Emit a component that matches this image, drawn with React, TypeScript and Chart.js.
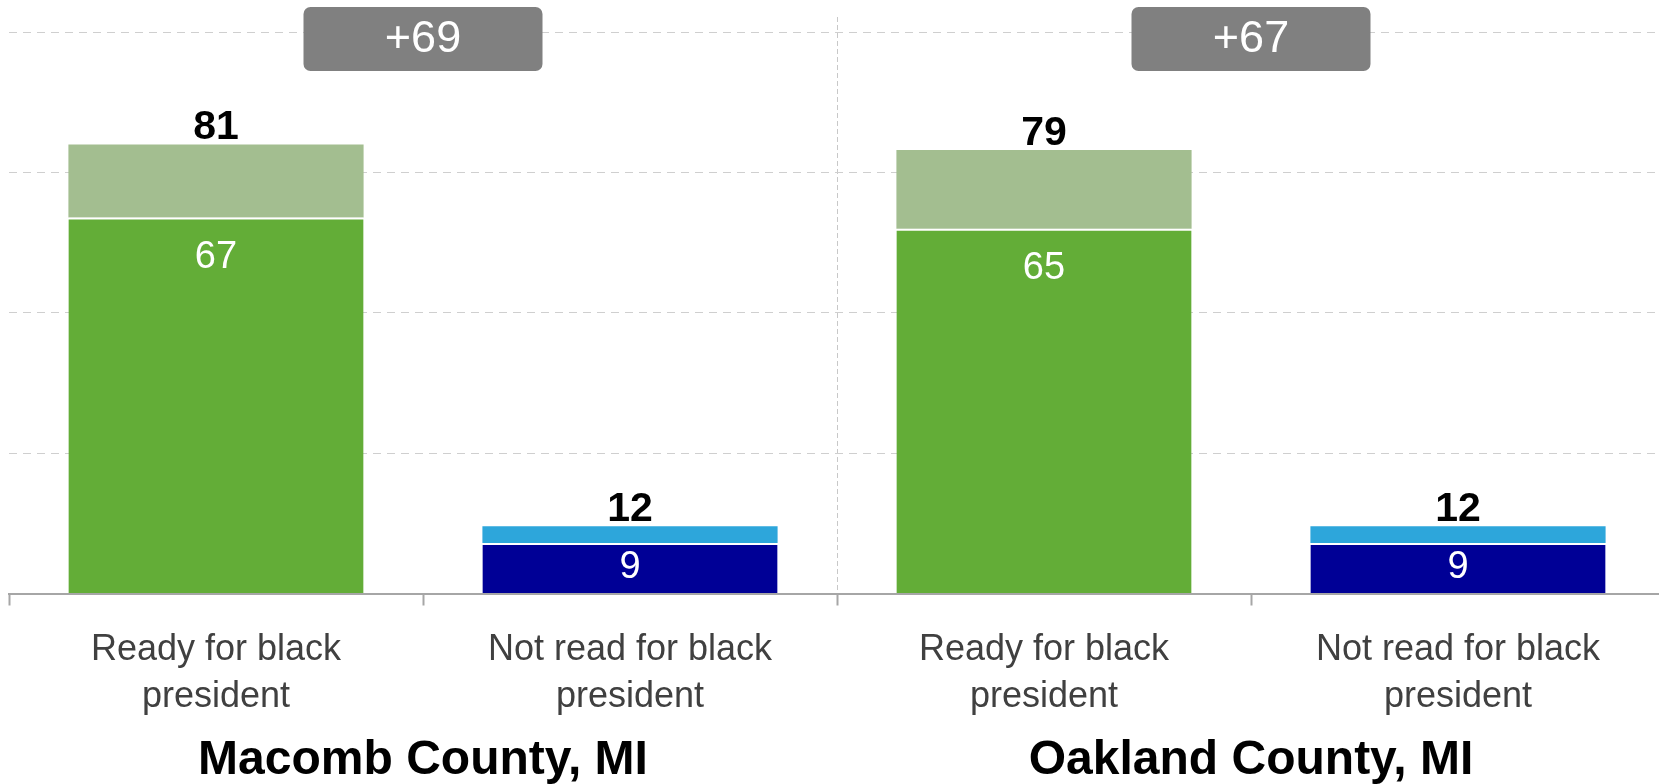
import React, { useEffect, useRef } from "react";
import { Chart, registerables } from "chart.js";

Chart.register(...registerables);

// ---- data ----
const categories: string[][] = [
  ["Ready for black", "president"],
  ["Not read for black", "president"],
  ["Ready for black", "president"],
  ["Not read for black", "president"],
];
const groups: string[] = ["Macomb County, MI", "Oakland County, MI"];
const strongValues: number[] = [67, 9, 65, 9];
const softValues: number[] = [13, 3, 14, 3];
const totalLabels: number[] = [81, 12, 79, 12];
const yTicks: number[] = [0, 25, 50, 75, 100];

// ---- styles ----
const FONT = "'Liberation Sans', Arial, Helvetica, sans-serif";
const readyStrong = "#63AD37";
const readySoft = "#A3BE90";
const notStrong = "#000096";
const notSoft = "#2DA6DB";
const isReady = (i: number) => i % 2 === 0;

const labelPlugin = {
  id: "customLabels",
  afterDatasetsDraw(chart: any) {
    const { ctx, chartArea } = chart;
    const xScale = chart.scales.x;
    const m0 = chart.getDatasetMeta(0).data;
    const m1 = chart.getDatasetMeta(1).data;
    ctx.save();
    // inner labels, clipped to chart area
    ctx.save();
    ctx.beginPath();
    ctx.rect(chartArea.left, chartArea.top, chartArea.right - chartArea.left, chartArea.bottom - chartArea.top);
    ctx.clip();
    ctx.fillStyle = "#ffffff";
    ctx.font = `38px ${FONT}`;
    ctx.textAlign = "center";
    ctx.textBaseline = "middle";
    strongValues.forEach((v, i) => {
      const bar = m0[i];
      const y = Math.min(bar.y + 40, (bar.y + bar.base) / 2);
      ctx.fillText(String(v), bar.x, y);
    });
    ctx.restore();
    // totals
    ctx.fillStyle = "#000000";
    ctx.font = `bold 41px ${FONT}`;
    ctx.textAlign = "center";
    ctx.textBaseline = "alphabetic";
    totalLabels.forEach((v, i) => {
      const bar = m1[i];
      ctx.fillText(String(v), bar.x, bar.y - 5);
    });
    // difference boxes + group labels
    groups.forEach((g, gi) => {
      const a = xScale.getPixelForValue(gi * 2);
      const b = xScale.getPixelForValue(gi * 2 + 1);
      const cx = (a + b) / 2;
      const w = 239;
      const h = 64;
      const top = chartArea.top - 10;
      ctx.fillStyle = "#808080";
      ctx.beginPath();
      (ctx as any).roundRect(cx - w / 2, top, w, h, 7);
      ctx.fill();
      const diff = totalLabels[gi * 2] - totalLabels[gi * 2 + 1];
      ctx.fillStyle = "#ffffff";
      ctx.font = `45px ${FONT}`;
      ctx.textAlign = "center";
      ctx.textBaseline = "middle";
      ctx.fillText((diff >= 0 ? "+" : "") + diff, cx, top + h / 2 + 1);
      ctx.fillStyle = "#000000";
      ctx.font = `bold 48px ${FONT}`;
      ctx.textBaseline = "alphabetic";
      ctx.fillText(g, cx, chartArea.bottom + 180);
    });
    ctx.restore();
  },
};

export default function App() {
  const ref = useRef<HTMLCanvasElement | null>(null);
  useEffect(() => {
    if (!ref.current) return;
    const chart = new Chart(ref.current, {
      type: "bar",
      data: {
        labels: categories,
        datasets: [
          {
            label: "Strongly",
            data: strongValues,
            backgroundColor: strongValues.map((_, i) => (isReady(i) ? readyStrong : notStrong)),
            borderColor: "#ffffff",
            borderWidth: { top: 2, left: 0, right: 0, bottom: 0 },
            borderSkipped: false,
            barPercentage: 0.713,
            categoryPercentage: 1,
          },
          {
            label: "Somewhat",
            data: softValues,
            backgroundColor: softValues.map((_, i) => (isReady(i) ? readySoft : notSoft)),
            borderWidth: 0,
            barPercentage: 0.713,
            categoryPercentage: 1,
          },
        ],
      },
      options: {
        responsive: false,
        animation: false,
        devicePixelRatio: 1,
        layout: { padding: { top: 17, left: 9, right: 15, bottom: 0 } },
        plugins: {
          legend: { display: false },
          tooltip: { enabled: false },
          title: { display: false },
        },
        scales: {
          x: {
            stacked: true,
            afterFit: (scale: any) => {
              scale.height = 190.5;
            },
            grid: {
              offset: true,
              color: (c: any) => (c.index === 2 ? "#c8c8c8" : "rgba(0,0,0,0)"),
              lineWidth: 1,
              drawTicks: true,
              tickLength: 12,
              tickColor: "#a6a6a6",
              tickWidth: 2,
            },
            border: { display: true, color: "#a6a6a6", width: 2, z: 1, dash: [5, 3] },
            ticks: {
              color: "#404040",
              font: { family: FONT, size: 36, lineHeight: 1.28 },
              padding: 22,
              maxRotation: 0,
              autoSkip: false,
            },
          },
          y: {
            stacked: true,
            min: 0,
            max: 102.7,
            afterBuildTicks: (scale: any) => {
              scale.ticks = yTicks.map((v) => ({ value: v }));
            },
            grid: {
              color: (c: any) => (c.tick && c.tick.value > 0 ? "#cfcfcf" : "rgba(0,0,0,0)"),
              lineWidth: 1,
              drawTicks: false,
            },
            border: { display: false, dash: [8, 6] },
            ticks: { display: false },
          },
        },
      },
      plugins: [labelPlugin],
    });
    return () => chart.destroy();
  }, []);
  return (
    <div
      style={{
        position: "fixed",
        left: 0,
        top: 0,
        width: 1659,
        height: 784,
        overflow: "hidden",
        background: "#ffffff",
      }}
    >
      <canvas ref={ref} width={1680} height={784} style={{ display: "block" }} />
    </div>
  );
}
